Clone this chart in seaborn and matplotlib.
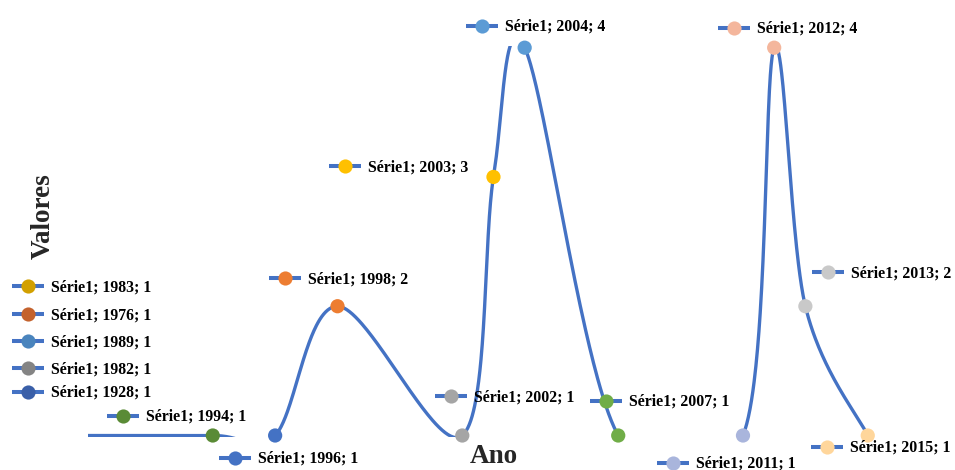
import numpy as np
import pandas as pd
import matplotlib
matplotlib.use("Agg")
import matplotlib.pyplot as plt
from matplotlib import transforms
import seaborn as sns

# Série de dados (ano, valor) em ordem crescente de ano
anos = [1928, 1976, 1982, 1983, 1989, 1994, 1996, 1998, 2002, 2003, 2004, 2007, 2011, 2012, 2013, 2015]
valores = [1, 1, 1, 1, 1, 1, 1, 2, 1, 3, 4, 1, 1, 4, 2, 1]
cores = ["#3A5FA8", "#C4622D", "#848484", "#D2A000", "#4A84BD", "#5A8B36",
         "#4472C4", "#ED7D31", "#A5A5A5", "#FFC000", "#5B9BD5", "#70AD47",
         "#A9B5DC", "#F4B69C", "#C9C9C9", "#FFD69B"]
serie = "Série1"

# Anos fora do intervalo do eixo: rótulos empilhados à esquerda
anos_empilhados = [1983, 1976, 1989, 1982, 1928]

# Layout
W, H, DPI = 955, 470, 100
X_MIN, X_MAX = 1990, 2016
PX_POR_ANO = 31.19
PX_POR_UNID = 129.27
PAD = 1.7  # folga de recorte (px) para a linha na borda da área de plotagem
COR_LINHA = "#4472C4"
FONTE = "Liberation Serif"

# deslocamento (px, x para direita / y para baixo) da chave do rótulo em relação ao ponto
desloc_rotulo = {
    1994: (-90, -20), 1996: (-40, 22), 1998: (-53, -28), 2002: (-11, -39.5),
    2003: (-148, -11), 2004: (-43, -22), 2007: (-12, -35), 2011: (-70, 27),
    2012: (-40, -20), 2013: (23, -34), 2015: (-41, 11),
}
# posição (px, imagem) da chave para os rótulos empilhados
pos_empilhados_x = 28.3
pos_empilhados_y = [286, 314, 341, 368.3, 391.7]

df = pd.DataFrame({"ano": anos, "valor": valores, "cor": cores})


def curva_suave(x, y, n=80):
    """Curva suavizada (Bézier cúbica com tangentes de Catmull-Rom)."""
    p = np.column_stack([x, y]).astype(float)
    ext = np.vstack([p[0], p, p[-1]])
    xs, ys = [], []
    t = np.linspace(0, 1, n)[:, None]
    for i in range(len(p) - 1):
        p0, p1 = ext[i + 1], ext[i + 2]
        c1 = p0 + (ext[i + 2] - ext[i]) / 6.0
        c2 = p1 - (ext[i + 3] - ext[i + 1]) / 6.0
        b = ((1 - t) ** 3) * p0 + 3 * ((1 - t) ** 2) * t * c1 + 3 * (1 - t) * t ** 2 * c2 + t ** 3 * p1
        xs.append(b[:, 0])
        ys.append(b[:, 1])
    return np.concatenate(xs), np.concatenate(ys)


sns.set_theme(style="white")
plt.rcParams["font.family"] = [FONTE, "DejaVu Serif"]

fig = plt.figure(figsize=(W / DPI, H / DPI), dpi=DPI)
ax_w = (X_MAX - X_MIN) * PX_POR_ANO
ax_h = 3 * PX_POR_UNID + 2 * PAD
ax_bottom = (H - 435.5) - PAD
ax = fig.add_axes([88 / W, ax_bottom / H, ax_w / W, ax_h / H])
pad_d = PAD / PX_POR_UNID
ax.set_xlim(X_MIN, X_MAX)
ax.set_ylim(1 - pad_d, 4 + pad_d)

cx, cy = curva_suave(df["ano"], df["valor"])
sns.lineplot(x=cx, y=cy, sort=False, estimator=None, color=COR_LINHA,
             linewidth=2.4, ax=ax, legend=False)

vis = df[(df["ano"] >= X_MIN) & (df["ano"] <= X_MAX)]
sns.scatterplot(data=vis, x="ano", y="valor", hue="ano",
                palette=dict(zip(vis["ano"], vis["cor"])), s=105,
                linewidth=0, legend=False, ax=ax, clip_on=False, zorder=3)

for s in ax.spines.values():
    s.set_visible(False)
ax.set_xticks([])
ax.set_yticks([])
ax.set_xlabel("")
ax.set_ylabel("")
ax.patch.set_alpha(0)


def rotulo(base, bx, by, dx, dy, cor, texto):
    """Chave (traço + marcador) seguida do texto do rótulo."""
    tr = transforms.offset_copy(base, fig=fig, x=dx, y=-dy, units="dots")
    ax.plot([bx], [by], marker="_", ms=22.7, mew=2.9, color=COR_LINHA,
            transform=tr, clip_on=False, zorder=4)
    ax.plot([bx], [by], marker="o", ms=10.2, mew=0, color=cor,
            transform=tr, clip_on=False, zorder=5)
    tt = transforms.offset_copy(base, fig=fig, x=dx + 23.0, y=-dy - 5.3, units="dots")
    ax.text(bx, by, texto, transform=tt, ha="left", va="baseline",
            fontsize=11.4, fontweight="bold", color="black", clip_on=False,
            family=[FONTE, "DejaVu Serif"])


for _, r in vis.iterrows():
    dx, dy = desloc_rotulo[int(r["ano"])]
    rotulo(ax.transData, r["ano"], r["valor"], dx, dy, r["cor"],
           f"{serie}; {int(r['ano'])}; {int(r['valor'])}")

cor_por_ano = dict(zip(df["ano"], df["cor"]))
val_por_ano = dict(zip(df["ano"], df["valor"]))
for ano, py in zip(anos_empilhados, pos_empilhados_y):
    rotulo(fig.transFigure, pos_empilhados_x / W, (H - py) / H, 0, 0,
           cor_por_ano[ano], f"{serie}; {ano}; {val_por_ano[ano]}")

fig.text(43 / W, (H - 216) / H, "Valores", rotation=90, ha="center", va="center",
         fontsize=19.5, fontweight="bold", family=[FONTE, "DejaVu Serif"])
fig.text(494 / W, (H - 463) / H, "Ano", ha="center", va="baseline",
         fontsize=19.5, fontweight="bold", family=[FONTE, "DejaVu Serif"])

fig.savefig("out.png", dpi=DPI, facecolor="white")
